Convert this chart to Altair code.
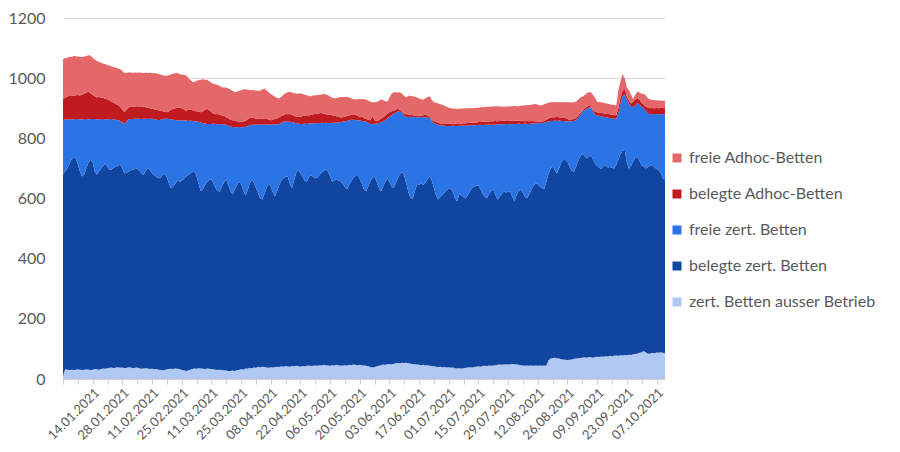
import altair as alt
import pandas as pd
import numpy as np

# Daily data, 31.12.2020 - 11.10.2021 (285 days). Values are the stacked
# upper edges of each band (one row = one week).
start_date = "2020-12-31"

top_ausser = [
    10, 32, 31, 30, 31, 30, 31,
    32, 31, 30, 31, 32, 31, 30,
    31, 33, 32, 31, 33, 35, 34,
    36, 37, 38, 36, 38, 39, 37,
    38, 36, 37, 39, 38, 36, 37,
    38, 36, 34, 35, 36, 35, 33,
    34, 32, 33, 31, 30, 29, 30,
    32, 33, 34, 33, 35, 34, 33,
    30, 29, 27, 28, 31, 33, 35,
    34, 36, 35, 34, 33, 35, 34,
    33, 32, 31, 30, 31, 30, 29,
    28, 27, 27, 28, 27, 29, 30,
    33, 31, 35, 34, 37, 36, 38,
    37, 40, 39, 41, 40, 38, 37,
    39, 38, 40, 41, 40, 42, 41,
    43, 42, 41, 43, 42, 44, 43,
    41, 43, 42, 44, 45, 43, 44,
    45, 44, 46, 45, 47, 46, 45,
    44, 46, 45, 47, 46, 44, 45,
    46, 45, 47, 46, 48, 47, 46,
    47, 46, 45, 44, 42, 40, 38,
    40, 42, 44, 46, 48, 47, 49,
    50, 48, 51, 52, 53, 52, 54,
    53, 54, 52, 51, 50, 49, 48,
    47, 46, 47, 45, 46, 44, 43,
    42, 41, 40, 41, 39, 40, 38,
    39, 37, 38, 36, 35, 36, 35,
    36, 37, 38, 39, 38, 40, 41,
    42, 41, 43, 44, 43, 45, 44,
    45, 46, 47, 48, 47, 48, 49,
    48, 49, 50, 49, 48, 47, 46,
    45, 44, 45, 44, 45, 44, 45,
    44, 45, 44, 45, 44, 62, 68,
    70, 71, 69, 68, 66, 65, 64,
    63, 64, 65, 67, 68, 69, 70,
    71, 72, 71, 73, 72, 71, 73,
    74, 73, 75, 74, 76, 75, 77,
    76, 77, 78, 77, 79, 78, 80,
    79, 81, 80, 82, 83, 85, 87,
    89, 93, 88, 84, 85, 87, 86,
    88, 87, 89, 87, 86,
]

top_belegt_zert = [
    680, 690, 700, 715, 730, 738, 735,
    715, 690, 673, 680, 700, 720, 729,
    720, 690, 679, 690, 699, 708, 716,
    705, 695, 697, 702, 706, 710, 712,
    700, 683, 686, 690, 694, 696, 698,
    699, 692, 684, 678, 690, 702, 695,
    684, 678, 672, 667, 670, 678, 683,
    670, 650, 633, 640, 650, 660, 656,
    660, 665, 672, 678, 683, 687, 689,
    675, 648, 625, 630, 645, 655, 662,
    663, 650, 635, 625, 623, 640, 655,
    663, 645, 625, 613, 630, 645, 656,
    650, 628, 610, 625, 648, 663, 652,
    635, 618, 600, 597, 615, 635, 650,
    640, 620, 607, 625, 645, 660, 668,
    672, 673, 650, 634, 660, 685, 696,
    683, 672, 660, 656, 672, 678, 672,
    667, 670, 678, 686, 692, 696, 690,
    672, 656, 660, 664, 660, 656, 648,
    638, 630, 645, 658, 668, 675, 679,
    665, 648, 630, 623, 640, 658, 668,
    673, 655, 635, 623, 640, 655, 666,
    655, 640, 634, 650, 668, 682, 689,
    675, 648, 620, 602, 600, 625, 645,
    646, 650, 645, 652, 665, 673, 660,
    635, 610, 597, 605, 612, 620, 628,
    632, 633, 620, 600, 590, 617, 610,
    604, 601, 612, 625, 635, 640, 642,
    643, 630, 615, 605, 601, 615, 625,
    630, 612, 596, 605, 615, 623, 620,
    624, 623, 605, 590, 612, 625, 629,
    618, 605, 601, 615, 630, 642, 650,
    648, 640, 634, 632, 655, 680, 700,
    706, 695, 683, 700, 718, 732, 728,
    722, 705, 692, 689, 705, 725, 740,
    748, 742, 733, 738, 744, 730, 716,
    708, 702, 699, 708, 711, 703, 705,
    702, 700, 712, 730, 748, 758, 762,
    720, 699, 710, 725, 735, 739, 725,
    710, 706, 700, 705, 710, 711, 705,
    698, 695, 685, 667, 660,
]

top_frei_zert = [
    862, 863, 863, 864, 863, 863, 864,
    864, 863, 863, 864, 864, 863, 864,
    864, 864, 863, 863, 864, 864, 863,
    863, 864, 864, 863, 862, 860, 858,
    853, 848, 857, 863, 864, 864, 865,
    865, 865, 864, 865, 865, 864, 865,
    865, 864, 862, 860, 862, 864, 865,
    865, 864, 863, 862, 861, 860, 859,
    859, 860, 859, 858, 859, 858, 857,
    856, 855, 853, 850, 849, 848, 848,
    848, 849, 848, 847, 848, 847, 846,
    845, 842, 840, 838, 837, 837, 838,
    837, 837, 838, 840, 844, 845, 845,
    846, 845, 846, 845, 846, 847, 846,
    846, 845, 847, 846, 848, 852, 855,
    856, 855, 855, 854, 853, 850, 849,
    848, 848, 849, 848, 850, 849, 850,
    850, 851, 850, 852, 851, 852, 851,
    850, 852, 853, 852, 853, 854, 855,
    856, 858, 860, 862, 862, 861, 860,
    859, 858, 857, 855, 852, 848, 847,
    848, 850, 851, 853, 856, 860, 866,
    872, 877, 881, 886, 890, 892, 885,
    875, 870, 871, 872, 870, 871, 870,
    870, 871, 870, 869, 870, 868, 858,
    851, 847, 845, 843, 843, 842, 841,
    841, 841, 842, 841, 841, 842, 842,
    843, 842, 843, 843, 844, 843, 844,
    844, 845, 844, 845, 845, 846, 845,
    845, 846, 847, 846, 847, 847, 848,
    848, 847, 848, 848, 848, 849, 848,
    848, 849, 848, 848, 849, 849, 850,
    850, 850, 851, 852, 854, 856, 858,
    858, 859, 858, 859, 858, 858, 857,
    857, 856, 857, 858, 862, 868, 878,
    888, 893, 898, 902, 903, 890, 878,
    876, 875, 873, 872, 870, 869, 868,
    866, 865, 865, 885, 915, 940, 947,
    928, 915, 903, 905, 909, 918, 912,
    905, 900, 890, 882, 881, 880, 881,
    880, 881, 880, 881, 880,
]

top_belegt_adhoc = [
    931, 935, 938, 942, 943, 941, 943,
    944, 942, 946, 948, 952, 955, 950,
    945, 940, 936, 938, 934, 935, 931,
    930, 926, 922, 918, 914, 910, 905,
    895, 887, 895, 903, 905, 904, 906,
    907, 906, 907, 905, 903, 902, 900,
    898, 897, 895, 893, 892, 890, 888,
    887, 890, 895, 898, 900, 902, 903,
    900, 897, 892, 895, 897, 894, 891,
    890, 889, 887, 890, 895, 898, 893,
    888, 882, 880, 881, 878, 876, 874,
    870, 867, 862, 860, 859, 857, 856,
    855, 856, 858, 862, 868, 870, 868,
    866, 865, 864, 865, 866, 867, 862,
    860, 862, 865, 867, 870, 874, 877,
    881, 880, 881, 878, 875, 872, 871,
    872, 874, 876, 877, 876, 878, 880,
    881, 882, 883, 884, 882, 880, 879,
    878, 877, 875, 873, 871, 870, 870,
    872, 874, 876, 878, 880, 878, 875,
    870, 872, 868, 865, 862, 860, 874,
    860, 859, 860, 865, 870, 876, 882,
    887, 890, 892, 895, 898, 895, 890,
    881, 880, 879, 878, 877, 876, 876,
    875, 876, 877, 878, 876, 872, 862,
    858, 855, 852, 849, 848, 848, 849,
    848, 849, 848, 849, 848, 848, 849,
    850, 850, 851, 852, 852, 853, 853,
    854, 854, 855, 856, 855, 856, 857,
    857, 858, 857, 858, 858, 859, 858,
    858, 859, 858, 859, 859, 858, 859,
    858, 857, 858, 857, 858, 857, 857,
    856, 855, 856, 858, 862, 866, 869,
    870, 870, 871, 870, 869, 870, 868,
    864, 860, 862, 866, 868, 875, 885,
    892, 900, 905, 908, 907, 895, 888,
    887, 885, 884, 883, 882, 881, 880,
    879, 878, 877, 900, 936, 958, 964,
    940, 925, 916, 922, 930, 934, 928,
    918, 912, 906, 902, 900, 901, 900,
    901, 900, 902, 901, 900,
]

top_frei_adhoc = [
    1063, 1066, 1068, 1071, 1070, 1074, 1073,
    1072, 1071, 1070, 1072, 1074, 1076, 1075,
    1068, 1062, 1057, 1054, 1051, 1048, 1046,
    1043, 1041, 1039, 1037, 1035, 1032, 1030,
    1024, 1017, 1018, 1019, 1019, 1018, 1019,
    1018, 1019, 1018, 1017, 1018, 1017, 1018,
    1017, 1016, 1016, 1014, 1012, 1010, 1008,
    1008, 1010, 1013, 1015, 1016, 1017, 1013,
    1012, 1011, 1010, 1002, 995, 988, 987,
    991, 993, 995, 996, 995, 995, 990,
    985, 981, 980, 977, 974, 970, 969,
    969, 966, 962, 958, 953, 955, 958,
    960, 962, 963, 962, 960, 961, 960,
    959, 958, 958, 962, 966, 960, 953,
    947, 943, 938, 934, 932, 938, 945,
    950, 953, 955, 952, 950, 949, 948,
    950, 948, 945, 943, 941, 940, 942,
    943, 944, 945, 946, 947, 946, 944,
    938, 935, 932, 934, 936, 937, 937,
    937, 938, 936, 933, 930, 929, 930,
    931, 930, 931, 928, 925, 922, 920,
    920, 921, 924, 930, 927, 924, 922,
    935, 948, 953, 953, 952, 953, 948,
    940, 936, 942, 941, 940, 938, 936,
    932, 930, 928, 933, 937, 940, 928,
    920, 918, 916, 914, 911, 908, 905,
    902, 900, 899, 898, 898, 898, 899,
    899, 900, 900, 900, 901, 901, 902,
    902, 903, 903, 904, 905, 905, 906,
    906, 907, 907, 906, 906, 905, 906,
    906, 907, 907, 908, 907, 907, 908,
    909, 910, 910, 911, 912, 913, 914,
    912, 909, 910, 913, 916, 918, 920,
    920, 921, 920, 921, 920, 920, 921,
    920, 920, 919, 920, 922, 928, 936,
    938, 943, 950, 953, 953, 945, 935,
    922, 921, 920, 918, 917, 915, 913,
    912, 911, 909, 960, 990, 1013, 1000,
    969, 960, 945, 931, 945, 956, 952,
    948, 947, 942, 932, 929, 928, 927,
    927, 926, 926, 925, 925,
]

categories = [
    "zert. Betten ausser Betrieb",
    "belegte zert. Betten",
    "freie zert. Betten",
    "belegte Adhoc-Betten",
    "freie Adhoc-Betten",
]
colors = ["#afc8f4", "#1146a0", "#2a74e6", "#bf1b20", "#e4686a"]

tick_labels = [
    "14.01.2021", "28.01.2021", "11.02.2021", "25.02.2021", "11.03.2021",
    "25.03.2021", "08.04.2021", "22.04.2021", "06.05.2021", "20.05.2021",
    "03.06.2021", "17.06.2021", "01.07.2021", "15.07.2021", "29.07.2021",
    "12.08.2021", "26.08.2021", "09.09.2021", "23.09.2021", "07.10.2021",
]

# ---- build the long table ----
tops = np.array([top_ausser, top_belegt_zert, top_frei_zert,
                 top_belegt_adhoc, top_frei_adhoc], dtype=float)
n = tops.shape[1]
assert all(len(a) == n for a in tops)
bands = np.diff(np.vstack([np.zeros(n), tops]), axis=0).clip(min=0)

DAY = 86400000
t0 = int(pd.Timestamp(start_date).value // 1_000_000)
times = [t0 + i * DAY for i in range(n)]

rows = []
for k, cat in enumerate(categories):
    for i in range(n):
        rows.append({"t": times[i], "cat": cat, "value": float(bands[k, i]), "ord": k})
df = pd.DataFrame(rows)

# weekly tick marks (Thursdays), labels every second week
week_ticks = [times[i] for i in range(0, n, 7)]
label_list = ",".join(f"'{s}'" for s in tick_labels)
label_expr = (f"indexof([{label_list}], utcFormat(datum.value, '%d.%m.%Y')) >= 0 "
              f"? utcFormat(datum.value, '%d.%m.%Y') : ''")

legend_order = categories[::-1]
legend_colors = colors[::-1]

chart = alt.Chart(df).mark_area(interpolate="linear").encode(
    x=alt.X(
        "t:T",
        scale=alt.Scale(type="utc", domain=[times[0], times[-1]], nice=False),
        axis=alt.Axis(
            values=week_ticks, tickCount=200, labelExpr=label_expr, title=None,
            grid=False, labelAngle=-45, labelAlign="right", labelBaseline="top",
            labelFontSize=13, labelColor="#595959", labelPadding=2,
            tickSize=5, tickColor="#d0d0d0", domainColor="#d0d0d0",
            labelOverlap=False, labelFlush=False,
        ),
    ),
    y=alt.Y(
        "value:Q", stack="zero",
        scale=alt.Scale(domain=[0, 1200], nice=False),
        axis=alt.Axis(
            values=[0, 200, 400, 600, 800, 1000, 1200], format="d", title=None,
            domain=False, ticks=False, labelPadding=18, labelFontSize=16,
            labelColor="#595959", gridColor="#d9d9d9",
        ),
    ),
    color=alt.Color(
        "cat:N",
        scale=alt.Scale(domain=legend_order, range=legend_colors),
        legend=alt.Legend(
            title=None, orient="none", legendX=606, legendY=132,
            symbolType="square", symbolSize=81, symbolStrokeWidth=0,
            labelFontSize=16, labelColor="#595959", labelLimit=320,
            rowPadding=20, labelOffset=4,
        ),
    ),
    order=alt.Order("ord:Q", sort="ascending"),
).properties(
    width=602, height=361,
    autosize=alt.AutoSizeParams(type="none"),
    padding={"left": 55, "top": 10, "right": 227, "bottom": 65},
).configure(
    font="Lato",
).configure_view(stroke=None)

chart.save("out.html", embed_options={"renderer": "svg", "actions": False})
